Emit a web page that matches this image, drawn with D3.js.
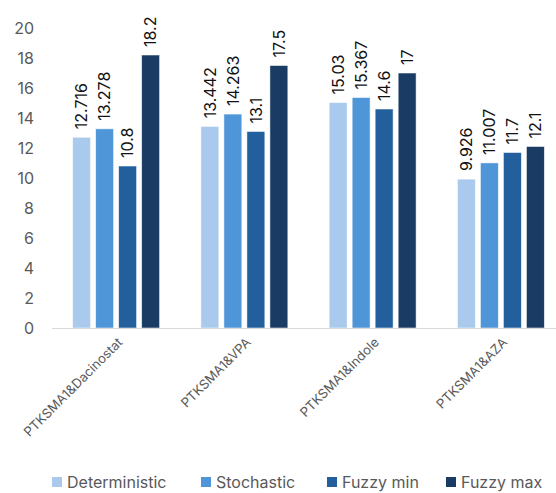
<!DOCTYPE html>
<html>
<head>
<meta charset="utf-8">
<script src="https://cdn.jsdelivr.net/npm/d3@7"></script>
<style>
  html, body { margin: 0; padding: 0; background: #fff; }
  svg { display: block; font-family: Inter, "Liberation Sans", Arial, sans-serif; }
</style>
</head>
<body>
<svg id="chart" width="556" height="493"></svg>
<script>
// Combinations on the x axis
const categories = ["PTKSMA1&Dacinostat", "PTKSMA1&VPA", "PTKSMA1&Indole", "PTKSMA1&AZA"];
// Series names (legend order)
const seriesNames = ["Deterministic", "Stochastic", "Fuzzy min", "Fuzzy max"];
// Values per series, in category order
const deterministic = [12.716, 13.442, 15.03, 9.926];
const stochastic    = [13.278, 14.263, 15.367, 11.007];
const fuzzyMin      = [10.8, 13.1, 14.6, 11.7];
const fuzzyMax      = [18.2, 17.5, 17, 12.1];
// Labels printed above the bars
const deterministicLabels = ["12.716", "13.442", "15.03", "9.926"];
const stochasticLabels    = ["13.278", "14.263", "15.367", "11.007"];
const fuzzyMinLabels      = ["10.8", "13.1", "14.6", "11.7"];
const fuzzyMaxLabels      = ["18.2", "17.5", "17", "12.1"];
// Y axis ticks
const yTicks = [0, 2, 4, 6, 8, 10, 12, 14, 16, 18, 20];

const colors = ["#a9caec", "#4f96d9", "#235f9d", "#1a3c64"];
const seriesValues = [deterministic, stochastic, fuzzyMin, fuzzyMax];
const seriesLabels = [deterministicLabels, stochasticLabels, fuzzyMinLabels, fuzzyMaxLabels];

const svg = d3.select("#chart");

const plotLeft = 52, plotRight = 565, plotTop = 28, plotBottom = 328;

const y = d3.scaleLinear().domain([0, 20]).range([plotBottom, plotTop]);

const x0 = d3.scaleBand()
  .domain(categories)
  .range([plotLeft, plotRight])
  .paddingInner(0.322)
  .paddingOuter(0.161);

const x1 = d3.scaleBand()
  .domain(seriesNames)
  .range([0, x0.bandwidth()])
  .paddingInner(0.22);

const color = d3.scaleOrdinal().domain(seriesNames).range(colors);

// Y axis: labels only, no line or ticks
const yAxis = svg.append("g")
  .attr("transform", "translate(34,0)")
  .call(d3.axisLeft(y).tickValues(yTicks).tickSize(0).tickPadding(0));
yAxis.select(".domain").remove();
yAxis.selectAll("text")
  .attr("fill", "#595959")
  .style("font-size", "16px")
  .style("font-family", "Inter, 'Liberation Sans', Arial, sans-serif");

// Bars, grouped by category
const rows = categories.map((c, i) => ({
  category: c,
  items: seriesNames.map((s, k) => ({ series: s, value: seriesValues[k][i], label: seriesLabels[k][i] }))
}));

const groups = svg.append("g").selectAll("g")
  .data(rows)
  .join("g")
  .attr("transform", d => `translate(${x0(d.category)},0)`);

groups.selectAll("rect")
  .data(d => d.items)
  .join("rect")
  .attr("x", d => x1(d.series))
  .attr("y", d => y(d.value))
  .attr("width", x1.bandwidth())
  .attr("height", d => y(0) - y(d.value))
  .attr("fill", d => color(d.series))
  .attr("stroke", "rgba(255,255,255,0.7)")
  .attr("stroke-width", 0.75);

// Value labels, rotated vertically above each bar
groups.selectAll("text.value")
  .data(d => d.items)
  .join("text")
  .attr("class", "value")
  .attr("transform", d => `translate(${x1(d.series) + x1.bandwidth() / 2},${y(d.value) - 8}) rotate(-90)`)
  .attr("dy", "0.36em")
  .attr("text-anchor", "start")
  .attr("fill", "#111")
  .style("font-size", "16px")
  .text(d => d.label);

// X axis baseline
svg.append("line")
  .attr("x1", plotLeft).attr("x2", plotRight)
  .attr("y1", plotBottom + 0.5).attr("y2", plotBottom + 0.5)
  .attr("stroke", "#d9d9d9")
  .attr("stroke-width", 1);

// Category labels, rotated 45 degrees
svg.append("g").selectAll("text")
  .data(categories)
  .join("text")
  .attr("transform", d => `translate(${x0(d) + x0.bandwidth() / 2 + 4},${plotBottom + 12}) rotate(-45)`)
  .attr("text-anchor", "end")
  .attr("dy", "0.35em")
  .attr("fill", "#595959")
  .style("font-size", "13px")
  .text(d => d);

// Legend
const legend = svg.append("g").attr("transform", "translate(0,482)");
const legendX = [52, 201, 327, 446];
const legendItems = legend.selectAll("g")
  .data(seriesNames)
  .join("g")
  .attr("transform", (d, i) => `translate(${legendX[i]},0)`);
legendItems.append("rect")
  .attr("x", 0).attr("y", -5)
  .attr("width", 10).attr("height", 10)
  .attr("fill", d => color(d));
legendItems.append("text")
  .attr("x", 15)
  .attr("dy", "0.36em")
  .attr("fill", "#595959")
  .style("font-size", "16px")
  .text(d => d);
</script>
</body>
</html>
